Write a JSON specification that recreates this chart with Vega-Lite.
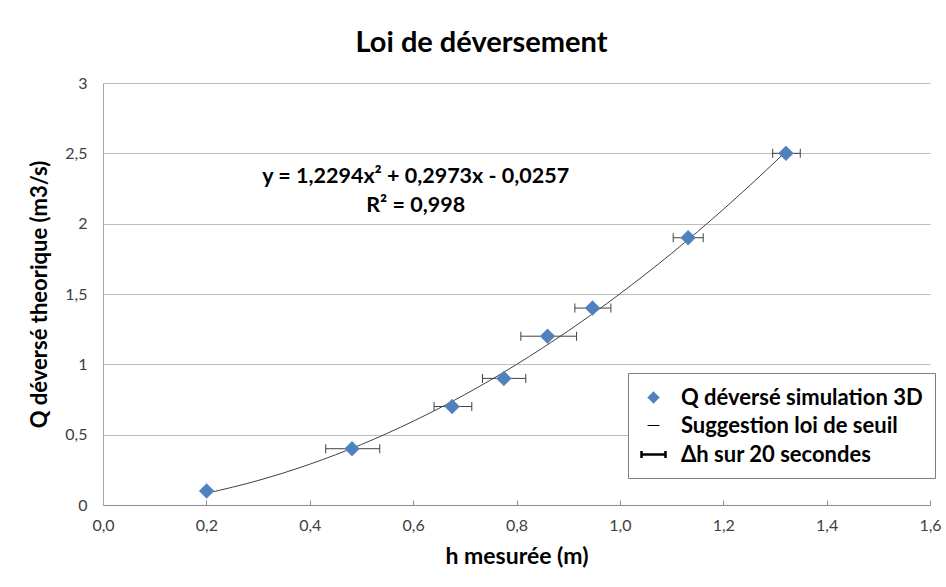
{
  "$schema": "https://vega.github.io/schema/vega-lite/v6.json",
  "width": 827,
  "height": 422,
  "autosize": {"type": "none"},
  "padding": {"left": 103, "top": 83, "right": 16, "bottom": 82},
  "background": "white",
  "config": {"font": "Lato", "view": {"stroke": null}},
  "title": {"text": "Loi de déversement", "font": "Lato", "fontSize": 29, "fontWeight": "bold", "color": "black", "anchor": "middle", "dx": -35, "offset": 17},
  "datasets": {
    "points": [
      {"h": 0.2005, "q": 0.1, "hmin": null, "hmax": null},
      {"h": 0.4818, "q": 0.4, "hmin": 0.4309, "hmax": 0.5354},
      {"h": 0.6754, "q": 0.7, "hmin": 0.6405, "hmax": 0.7135},
      {"h": 0.7755, "q": 0.9, "hmin": 0.7342, "hmax": 0.818},
      {"h": 0.86, "q": 1.2, "hmin": 0.8084, "hmax": 0.9162},
      {"h": 0.947, "q": 1.4, "hmin": 0.9129, "hmax": 0.9826},
      {"h": 1.132, "q": 1.9, "hmin": 1.1032, "hmax": 1.1612},
      {"h": 1.3213, "q": 2.5, "hmin": 1.2956, "hmax": 1.349}
    ],
    "curve": [
      {"h": 0.2005, "q": 0.0833},
      {"h": 0.3, "q": 0.1741},
      {"h": 0.4, "q": 0.2899},
      {"h": 0.5, "q": 0.4303},
      {"h": 0.6, "q": 0.5953},
      {"h": 0.7, "q": 0.7848},
      {"h": 0.8, "q": 0.999},
      {"h": 0.9, "q": 1.2377},
      {"h": 1.0, "q": 1.501},
      {"h": 1.1, "q": 1.7889},
      {"h": 1.2, "q": 2.1014},
      {"h": 1.3, "q": 2.4385},
      {"h": 1.3213, "q": 2.5135}
    ],
    "labels": [
      {"h": 0.605, "q": 2.334, "t": "y = 1,2294x² + 0,2973x - 0,0257"},
      {"h": 0.605, "q": 2.128, "t": "R² = 0,998"}
    ]
  },
  "encoding": {
    "x": {
      "field": "h", "type": "quantitative",
      "scale": {"domain": [0, 1.6], "nice": false, "zero": false},
      "axis": {
        "title": "h mesurée (m)", "titleFont": "Lato", "titleFontSize": 23, "titleFontWeight": "bold", "titleColor": "black", "titlePadding": 12,
        "values": [0, 0.2, 0.4, 0.6, 0.8, 1.0, 1.2, 1.4, 1.6],
        "labelExpr": "replace(format(datum.value, '.1f'), '.', ',')",
        "labelFont": "Lato", "labelFontSize": 16, "labelColor": "#404040", "labelPadding": 17, "labelFlush": false,
        "tickSize": -5, "tickColor": "#8c8c8c", "domainColor": "#8c8c8c", "grid": false
      }
    },
    "y": {
      "field": "q", "type": "quantitative",
      "scale": {"domain": [0, 3], "nice": false},
      "axis": {
        "title": "Q déversé theorique (m3/s)", "titleFont": "Lato", "titleFontSize": 22, "titleFontWeight": "bold", "titleColor": "black", "titlePadding": 13,
        "values": [0, 0.5, 1, 1.5, 2, 2.5, 3],
        "labelExpr": "replace(format(datum.value, '~g'), '.', ',')",
        "labelFont": "Lato", "labelFontSize": 16, "labelColor": "#404040", "labelPadding": 16,
        "ticks": false, "domainColor": "#a6a6a6", "grid": true, "gridColor": "#bcbcbc", "gridWidth": 1
      }
    }
  },
  "layer": [
    {
      "data": {"name": "curve"},
      "mark": {"type": "line", "color": "#404040", "strokeWidth": 1, "interpolate": "monotone"},
      "encoding": {}
    },
    {
      "data": {"name": "points"},
      "mark": {"type": "rule", "color": "#404040", "strokeWidth": 1},
      "encoding": {"x": {"field": "hmin", "type": "quantitative"}, "x2": {"field": "hmax"}}
    },
    {
      "data": {"name": "points"},
      "mark": {"type": "tick", "orient": "vertical", "size": 9, "thickness": 1, "color": "#404040", "opacity": 1},
      "encoding": {"x": {"field": "hmin", "type": "quantitative"}}
    },
    {
      "data": {"name": "points"},
      "mark": {"type": "tick", "orient": "vertical", "size": 9, "thickness": 1, "color": "#404040", "opacity": 1},
      "encoding": {"x": {"field": "hmax", "type": "quantitative"}}
    },
    {
      "data": {"name": "points"},
      "mark": {"type": "point", "filled": true, "size": 900, "opacity": 1},
      "encoding": {
        "shape": {
          "datum": "Q déversé simulation 3D",
          "scale": {
            "domain": ["Q déversé simulation 3D", "Suggestion loi de seuil", "Δh sur 20 secondes"],
            "range": ["M0,-0.5L0.5,0L0,0.5L-0.5,0Z", "M-0.5,0L0.5,0", "M-1,0L1,0M-1,-0.3L-1,0.3M1,-0.3L1,0.3"]
          },
          "legend": {
            "title": null, "orient": "none", "legendX": 525, "legendY": 290,
            "labelFont": "Lato", "labelFontSize": 22, "labelFontWeight": "bold", "labelColor": "black", "labelLimit": 400, "labelOffset": 14,
            "symbolSize": 576, "rowPadding": 4, "padding": 12, "symbolOpacity": 1,
            "strokeColor": "#7f7f7f", "fillColor": "white"
          }
        },
        "fill": {
          "datum": "Q déversé simulation 3D",
          "scale": {
            "domain": ["Q déversé simulation 3D", "Suggestion loi de seuil", "Δh sur 20 secondes"],
            "range": ["#4F81BD", "transparent", "transparent"]
          },
          "legend": {"title": null}
        },
        "stroke": {
          "datum": "Q déversé simulation 3D",
          "scale": {
            "domain": ["Q déversé simulation 3D", "Suggestion loi de seuil", "Δh sur 20 secondes"],
            "range": ["#6d95c8", "#000000", "#000000"]
          },
          "legend": {"title": null}
        },
        "strokeWidth": {
          "datum": "Q déversé simulation 3D",
          "scale": {
            "type": "ordinal",
            "domain": ["Q déversé simulation 3D", "Suggestion loi de seuil", "Δh sur 20 secondes"],
            "range": [0.5, 1, 2.5]
          },
          "legend": {"title": null}
        }
      }
    },
    {
      "data": {"name": "labels"},
      "mark": {"type": "text", "font": "Lato", "fontSize": 21.5, "fontWeight": "bold", "color": "black", "baseline": "middle", "align": "center"},
      "encoding": {"text": {"field": "t"}}
    }
  ]
}
